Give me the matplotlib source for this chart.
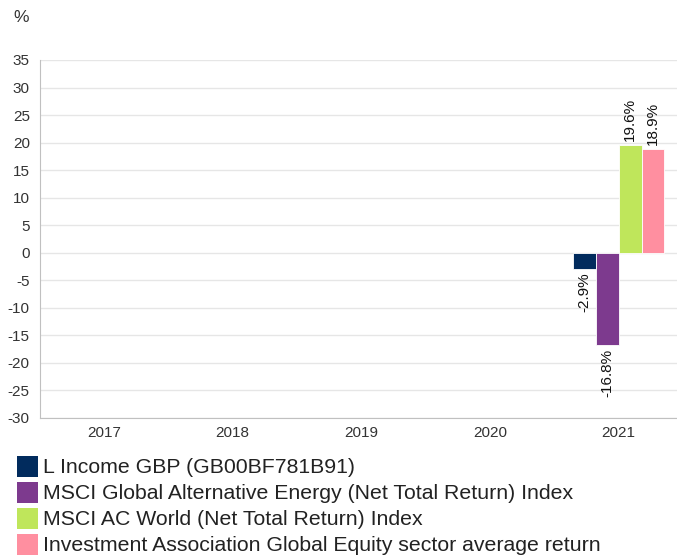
import numpy as np
import matplotlib
matplotlib.use("Agg")
import matplotlib.pyplot as plt
from matplotlib.patches import Rectangle

plt.rcParams["font.family"] = ["Liberation Sans", "DejaVu Sans"]
plt.rcParams["axes.unicode_minus"] = False

# Data
years = ["2017", "2018", "2019", "2020", "2021"]
series_names = [
    "L Income GBP (GB00BF781B91)",
    "MSCI Global Alternative Energy (Net Total Return) Index",
    "MSCI AC World (Net Total Return) Index",
    "Investment Association Global Equity sector average return",
]
fund = [np.nan, np.nan, np.nan, np.nan, -2.9]
alt_energy = [np.nan, np.nan, np.nan, np.nan, -16.8]
ac_world = [np.nan, np.nan, np.nan, np.nan, 19.6]
sector_avg = [np.nan, np.nan, np.nan, np.nan, 18.9]
colors = ["#012b5d", "#7d3a8e", "#bfe65b", "#ff8fa0"]

W, H = 677, 555
fig = plt.figure(figsize=(W / 100, H / 100), dpi=100)
left, right, top, bottom = 39.5, 683, 60, 418
ax = fig.add_axes([left / W, 1 - bottom / H, (right - left) / W, (bottom - top) / H])

x = np.arange(len(years))
width = 0.178
offsets = [-1.5, -0.5, 0.5, 1.5]
all_series = [fund, alt_energy, ac_world, sector_avg]

for vals, off, col in zip(all_series, offsets, colors):
    pos = x + off * width
    ax.bar(pos, vals, width, color=col, edgecolor="white", linewidth=0.6, zorder=3)
    for p, v in zip(pos, vals):
        if np.isnan(v):
            continue
        ax.annotate(f"{v:.1f}%", (p, v), xytext=(0, 2.5 if v > 0 else -2.5),
                    textcoords="offset points", rotation=90, ha="center",
                    va="bottom" if v > 0 else "top", fontsize=11, color="#111111")

ax.set_xlim(-0.5, len(years) - 0.5)
ax.set_ylim(-30, 35)
ax.set_yticks(np.arange(-30, 36, 5))
ax.set_xticks(x)
ax.set_xticklabels(years)
ax.grid(axis="y", color="#e6e6e6", linewidth=1, zorder=0)
ax.tick_params(axis="both", length=0, labelsize=11, colors="#333333")
ax.tick_params(axis="y", pad=7)
ax.tick_params(axis="x", pad=6)
for s in ["top", "right"]:
    ax.spines[s].set_visible(False)
ax.spines["left"].set_color("#c0c0c0")
ax.spines["bottom"].set_color("#c0c0c0")

fig.text(13 / W, 1 - 17 / H, "%", fontsize=12.5, color="#333333", va="center", ha="left")

# legend
for i, (name, col) in enumerate(zip(series_names, colors)):
    yc = 466.5 + i * 26
    fig.patches.append(Rectangle((17 / W, 1 - (yc + 10.5) / H), 21 / W, 21 / H,
                                 transform=fig.transFigure, facecolor=col, edgecolor="none"))
    fig.text(43 / W, 1 - (yc + 1) / H, name, fontsize=15.3, color="#222222", va="center", ha="left")

fig.savefig("out.png", dpi=100)
